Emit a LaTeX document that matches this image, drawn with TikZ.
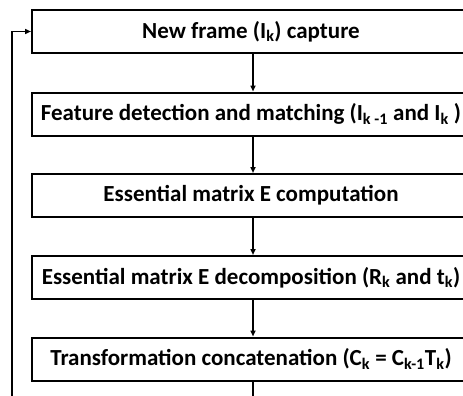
\documentclass[tikz,border=0pt]{standalone}
\usepackage{fontspec}
\setmainfont{Carlito}
\usetikzlibrary{arrows.meta}
\tikzset{
  stepbox/.style={draw=black, line width=2pt, minimum width=442pt, minimum height=43pt,
    inner sep=0pt, font=\bfseries\fontsize{23}{26}\selectfont},
  flow/.style={line width=1.6pt, -{Triangle[length=6pt,width=5pt]}},
  plain/.style={line width=1.6pt}
}
\begin{document}
\begin{tikzpicture}[x=1pt,y=-1pt]
\useasboundingbox (0,0) rectangle (463,396);
\clip (0,0) rectangle (463,396);
\node[stepbox] (n1) at (253,31.5) {\hspace*{-4pt}New frame (I\textsubscript{k}) capture};
\node[stepbox] (n2) at (253,114) {\hspace*{-4pt}Feature detection and matching (I\textsubscript{k -1} and I\textsubscript{k} )};
\node[stepbox] (n3) at (253,195.5) {\hspace*{-4pt}Essential matrix E computation};
\node[stepbox] (n4) at (253,277.5) {\hspace*{-4pt}Essential matrix E decomposition (R\textsubscript{k} and t\textsubscript{k})};
\node[stepbox] (n5) at (253,359) {\hspace*{-4pt}Transformation concatenation (C\textsubscript{k} = C\textsubscript{k-1}T\textsubscript{k})};
\coordinate (down) at (253,410);
\coordinate (loop) at (12,410);
\draw[flow] (n1) -- (n2);
\draw[flow] (n2) -- (n3);
\draw[flow] (n3) -- (n4);
\draw[flow] (n4) -- (n5);
\draw[plain] (n5) -- (down);
\draw[flow] (loop) |- (n1.west);
\end{tikzpicture}
\end{document}
